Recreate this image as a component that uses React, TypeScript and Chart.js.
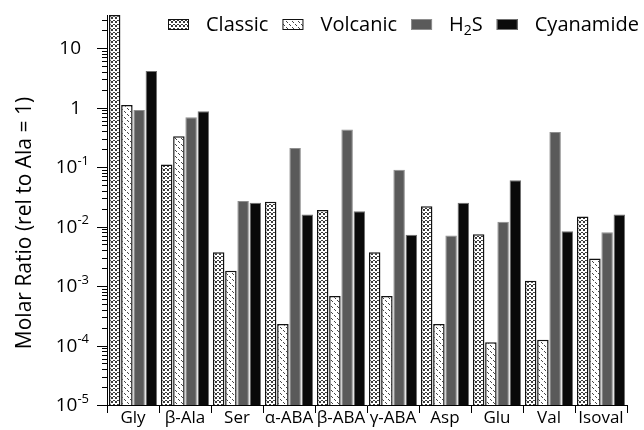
import React, { useEffect, useRef } from 'react';
import { Chart, registerables } from 'chart.js';

Chart.register(...registerables);

const categories = ['Gly', 'β-Ala', 'Ser', 'α-ABA', 'β-ABA', 'γ-ABA', 'Asp', 'Glu', 'Val', 'Isoval'];
const classicValues = [36, 0.11, 0.0037, 0.026, 0.019, 0.0037, 0.022, 0.0074, 0.00123, 0.0148];
const volcanicValues = [1.1, 0.33, 0.0018, 0.00023, 0.00068, 0.00068, 0.00023, 0.000114, 0.000125, 0.0029];
const h2sValues = [0.91, 0.69, 0.027, 0.21, 0.43, 0.09, 0.0071, 0.012, 0.39, 0.008];
const cyanamideValues = [4.1, 0.87, 0.025, 0.016, 0.018, 0.0073, 0.025, 0.06, 0.0083, 0.016];
const seriesNames = ['Classic', 'Volcanic', 'H₂S', 'Cyanamide'];
const yTickValues = [1e-5, 1e-4, 1e-3, 1e-2, 1e-1, 1, 10];
const yTickBases = ['10', '10', '10', '10', '10', '1', '10'];
const yTickExponents = ['-5', '-4', '-3', '-2', '-1', '', ''];
const yTitle = 'Molar Ratio (rel to Ala = 1)';
const yMin = 1e-5;
const yMax = 36;

const FONT = '"Open Sans", "DejaVu Sans", sans-serif';

function makeClassicPattern(ctx: CanvasRenderingContext2D): CanvasPattern | string {
  const c = document.createElement('canvas');
  c.width = 4;
  c.height = 4;
  const g = c.getContext('2d');
  if (!g) return '#888';
  g.fillStyle = '#ffffff';
  g.fillRect(0, 0, 4, 4);
  g.fillStyle = '#3a3a3a';
  const px = [[1, 0], [2, 0], [0, 1], [3, 1], [0, 2], [3, 2]];
  px.forEach(([x, y]) => g.fillRect(x, y, 1, 1));
  return ctx.createPattern(c, 'repeat') || '#888';
}

function makeVolcanicPattern(ctx: CanvasRenderingContext2D): CanvasPattern | string {
  const c = document.createElement('canvas');
  c.width = 6;
  c.height = 6;
  const g = c.getContext('2d');
  if (!g) return '#ddd';
  g.fillStyle = '#ffffff';
  g.fillRect(0, 0, 6, 6);
  g.fillStyle = '#444444';
  const px = [[1, 0], [2, 1], [4, 3], [5, 4]];
  px.forEach(([x, y]) => g.fillRect(x, y, 1, 1));
  return ctx.createPattern(c, 'repeat') || '#ddd';
}

const decorPlugin = {
  id: 'decor',
  afterDraw(chart: any) {
    const ctx: CanvasRenderingContext2D = chart.ctx;
    const y = chart.scales.y;
    const area = chart.chartArea;
    const left = area.left;
    ctx.save();
    ctx.strokeStyle = '#000';
    ctx.lineWidth = 1;
    // y ticks (major / minor)
    for (let e = -5; e <= 1; e++) {
      for (let m = 1; m <= 9; m++) {
        const v = m * Math.pow(10, e);
        if (v > yMax * 1.0001) break;
        const py = Math.round(y.getPixelForValue(v)) + 0.5;
        const len = m === 1 ? 10 : 5;
        ctx.beginPath();
        ctx.moveTo(left - len, py);
        ctx.lineTo(left, py);
        ctx.stroke();
      }
    }
    // y labels
    ctx.fillStyle = '#000';
    ctx.textBaseline = 'middle';
    yTickValues.forEach((v, i) => {
      const py = y.getPixelForValue(v);
      const base = yTickBases[i];
      const exp = yTickExponents[i];
      ctx.textAlign = 'right';
      if (!exp) {
        ctx.font = `19px ${FONT}`;
        ctx.fillText(base, 81, py + 1);
      } else {
        ctx.font = `13px ${FONT}`;
        const ew = ctx.measureText(exp).width;
        ctx.fillText(exp, 89, py - 6);
        ctx.font = `19px ${FONT}`;
        ctx.fillText(base, 89 - ew, py + 1);
      }
    });
    // y title
    ctx.save();
    ctx.translate(25, 223);
    ctx.rotate(-Math.PI / 2);
    ctx.textAlign = 'center';
    ctx.textBaseline = 'middle';
    ctx.font = `21px ${FONT}`;
    ctx.fillText(yTitle, 0, 0);
    ctx.restore();

    // legend
    const ds = chart.data.datasets;
    let x = 168;
    const boxW = 21;
    const boxH = 11;
    const boxY = 19;
    const textY = 25;
    ctx.textAlign = 'left';
    ctx.textBaseline = 'middle';
    seriesNames.forEach((name, i) => {
      const d = ds[i];
      ctx.fillStyle = d.backgroundColor;
      ctx.fillRect(x, boxY, boxW, boxH);
      ctx.strokeStyle = d.borderColor;
      ctx.lineWidth = 1;
      ctx.strokeRect(x + 0.5, boxY + 0.5, boxW - 1, boxH - 1);
      x += boxW + 17;
      ctx.fillStyle = '#000';
      const parts = name.split('₂');
      if (parts.length === 2) {
        ctx.font = `20px ${FONT}`;
        ctx.fillText(parts[0], x, textY);
        x += ctx.measureText(parts[0]).width;
        ctx.font = `14px ${FONT}`;
        ctx.fillText('2', x, textY + 6);
        x += ctx.measureText('2').width;
        ctx.font = `20px ${FONT}`;
        ctx.fillText(parts[1], x, textY);
        x += ctx.measureText(parts[1]).width;
      } else {
        ctx.font = `20px ${FONT}`;
        ctx.fillText(name, x, textY);
        x += ctx.measureText(name).width;
      }
      x += 14;
    });
    ctx.restore();
  },
};

export default function App() {
  const ref = useRef<HTMLCanvasElement | null>(null);
  useEffect(() => {
    document.body.style.margin = '0';
    const canvas = ref.current;
    if (!canvas) return;
    const ctx = canvas.getContext('2d');
    if (!ctx) return;
    const chart = new Chart(ctx, {
      type: 'bar',
      data: {
        labels: categories,
        datasets: [
          {
            label: seriesNames[0],
            data: classicValues,
            backgroundColor: makeClassicPattern(ctx) as any,
            borderColor: '#111111',
            borderWidth: 1.5,
          },
          {
            label: seriesNames[1],
            data: volcanicValues,
            backgroundColor: makeVolcanicPattern(ctx) as any,
            borderColor: '#111111',
            borderWidth: 1.5,
          },
          {
            label: seriesNames[2],
            data: h2sValues,
            backgroundColor: '#5a5a5a',
            borderColor: '#8e8e8e',
            borderWidth: 1,
          },
          {
            label: seriesNames[3],
            data: cyanamideValues,
            backgroundColor: '#0a0a0a',
            borderColor: '#707070',
            borderWidth: 1,
          },
        ],
      },
      options: {
        animation: false,
        responsive: true,
        maintainAspectRatio: false,
        layout: { padding: { top: 15, right: 17, left: 0, bottom: 0 } },
        datasets: { bar: { categoryPercentage: 0.94, barPercentage: 0.94 } },
        plugins: {
          legend: { display: false },
          tooltip: { enabled: false },
        },
        scales: {
          x: {
            type: 'category',
            grid: { offset: true, drawOnChartArea: false, tickLength: 8, color: '#000' },
            border: { display: true, color: '#000', width: 1 },
            ticks: {
              color: '#000',
              font: { family: FONT, size: 17 },
              padding: -5,
              maxRotation: 0,
              autoSkip: false,
            },
            afterFit: (s: any) => {
              s.height = 25;
            },
          },
          y: {
            type: 'logarithmic',
            min: yMin,
            max: yMax,
            grid: { display: false },
            border: { display: true, color: '#000', width: 1 },
            ticks: { display: false },
            afterFit: (s: any) => {
              s.width = 107;
            },
          },
        },
      },
      plugins: [decorPlugin],
    });
    return () => chart.destroy();
  }, []);
  return (
    <div style={{ width: 644, height: 430, position: 'relative', overflow: 'hidden' }}>
      <canvas ref={ref} />
    </div>
  );
}
